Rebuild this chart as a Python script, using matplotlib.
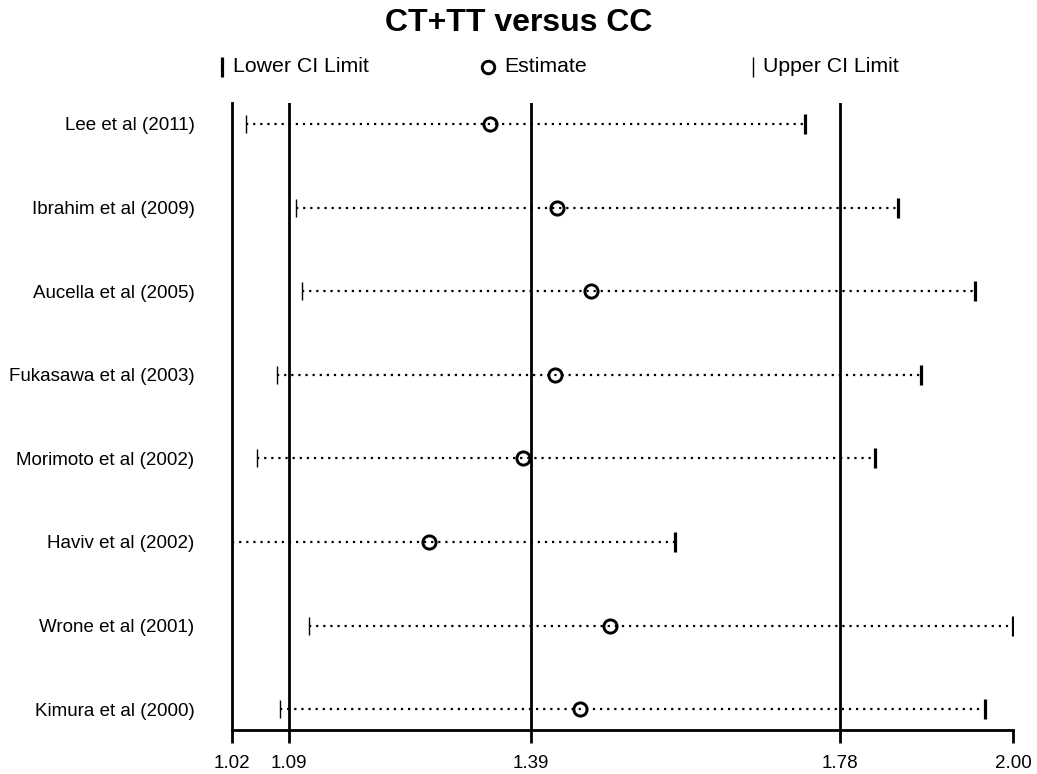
import matplotlib.pyplot as plt

plt.rcParams['font.family'] = ['Liberation Sans', 'DejaVu Sans']

# dane
studies = ['Lee et al (2011)', 'Ibrahim et al (2009)', 'Aucella et al (2005)',
           'Fukasawa et al (2003)', 'Morimoto et al (2002)', 'Haviv et al (2002)',
           'Wrone et al (2001)', 'Kimura et al (2000)']
estimate = [1.344, 1.428, 1.470, 1.425, 1.385, 1.267, 1.494, 1.457]
lower = [1.038, 1.100, 1.108, 1.077, 1.051, 1.020, 1.117, 1.080]
upper = [1.739, 1.856, 1.952, 1.885, 1.827, 1.576, 2.000, 1.965]

# linie wyniku łącznego: dolny CI, estymacja, górny CI
overall = [1.0915, 1.395, 1.783]
tick_pos = [1.02, 1.0915, 1.395, 1.783, 2.00]
tick_labels = ['1.02', '1.09', '1.39', '1.78', '2.00']

fig = plt.figure(figsize=(10.37, 7.74), dpi=100)
ax = fig.add_axes([0.2237, 0.0568, 0.7532, 0.8101])

y = list(range(1, len(studies) + 1))

for v in overall:
    ax.axvline(v, color='black', lw=2.0, zorder=1)

for i in range(len(studies)):
    ax.plot([lower[i], upper[i]], [y[i], y[i]], color='black', lw=1.6,
            linestyle=(0, (1, 2.2)), zorder=2)

ax.plot(lower, y, linestyle='none', marker='|', markersize=13, markeredgewidth=1.0,
        color='black', zorder=3)
ax.plot(upper, y, linestyle='none', marker='|', markersize=14, markeredgewidth=2.3,
        color='black', zorder=3)
ax.plot(estimate, y, linestyle='none', marker='o', markersize=9.5, markeredgewidth=2.1,
        markerfacecolor='none', markeredgecolor='black', zorder=4)

ax.set_xlim(1.02, 2.00)
ax.set_ylim(8.25, 0.75)
ax.set_xticks(tick_pos)
ax.set_xticklabels(tick_labels, fontsize=13.5)
ax.set_yticks(y)
ax.set_yticklabels(studies, fontsize=13.5)
ax.tick_params(axis='y', length=0, pad=27)
ax.tick_params(axis='x', length=9, width=2.0, pad=9)

for s in ['top', 'right']:
    ax.spines[s].set_visible(False)
ax.spines['left'].set_linewidth(2.0)
ax.spines['bottom'].set_linewidth(2.0)

# tytuł i legenda
fig.text(0.5, 1 - 23 / 774, 'CT+TT versus CC', ha='center', va='center',
         fontsize=23, fontweight='bold')

ly = 1 - 67 / 774
fig.lines.append(plt.Line2D([222 / 1037], [ly], marker='|', markersize=14, markeredgewidth=2.3,
                            color='black', transform=fig.transFigure))
fig.text(233 / 1037, ly, 'Lower CI Limit', ha='left', va='center', fontsize=15.3)
fig.lines.append(plt.Line2D([488 / 1037], [ly], marker='o', markersize=9, markeredgewidth=2.1,
                            markerfacecolor='none', color='black', transform=fig.transFigure))
fig.text(504 / 1037, ly, 'Estimate', ha='left', va='center', fontsize=15.3)
fig.lines.append(plt.Line2D([753 / 1037], [ly], marker='|', markersize=14, markeredgewidth=1.0,
                            color='black', transform=fig.transFigure))
fig.text(763 / 1037, ly, 'Upper CI Limit', ha='left', va='center', fontsize=15.3)

fig.savefig('out.png', dpi=100)
